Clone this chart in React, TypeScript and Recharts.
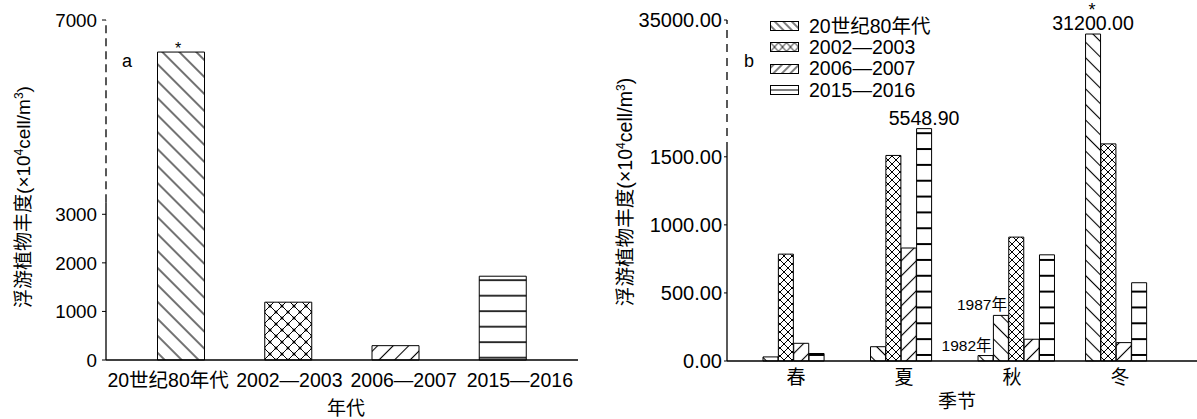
import React from 'react';
import { BarChart, Bar, XAxis, YAxis, Cell, LabelList, ReferenceLine, Legend } from 'recharts';

const FONT = "'Liberation Sans', Arial, 'Noto Sans CJK SC', sans-serif";

// ---------- panel a: mean abundance per survey period ----------
const DECADES = ['20世纪80年代', '2002—2003', '2006—2007', '2015—2016'];
const DECADE_MEANS = [6340, 1190, 295, 1725];
const DECADE_STARRED = [true, false, false, false];
const A_TICKS = [0, 1000, 2000, 3000, 7000];
const A_TOP = 7000;
const A_SOLID_TOP = 3250;

// ---------- panel b: seasonal abundance per survey period ----------
const SEASONS = ['春', '夏', '秋', '冬'];
const SERIES_KEYS = ['p80', 'p0203', 'p0607', 'p1516'];
const SERIES_NAMES = DECADES;
const S_80S = [30, 105, 40, 31200];
const S_0203 = [785, 1510, 910, 1595];
const S_0607 = [130, 830, 160, 135];
const S_1516 = [55, 5548.9, 780, 575];
const NOTES_80S = ['', '', '1982年', ''];
const AUTUMN_1987 = { value: 335, note: '1987年' };
const B_TICKS = [0, 500, 1000, 1500, 35000];

// broken value axis: linear up to B_BREAK, compressed above it
const B_BREAK = 1600;
const B_MAX = 35000;
const B_TOP = 2505;
const B_SOLID_TOP = 1550;
const B_K = (B_TOP - B_BREAK) / (B_MAX - B_BREAK);
const brk = (v: number) => (v <= B_BREAK ? v : B_BREAK + (v - B_BREAK) * B_K);
const unbrk = (d: number) => (d <= B_BREAK ? d : B_BREAK + (d - B_BREAK) / B_K);

// layout of bar slots: empty slots after each season group
const GAP_SLOTS_AFTER = [3, 3, 2, 0];
const DECADE_TICK_DX = [-13, 1, 8, 17];

const rowsA = DECADES.map((name, i) => ({
  name,
  value: DECADE_MEANS[i],
  star: DECADE_STARRED[i] ? '*' : undefined,
}));

const SERIES_VALUES = [S_80S, S_0203, S_0607, S_1516];
const rowsB: any[] = [];
SEASONS.forEach((season, si) => {
  SERIES_KEYS.forEach((key, ki) => {
    const add = (v: number, note?: string) => {
      rowsB.push({
        slot: `s${rowsB.length}`,
        season,
        [key]: brk(v),
        [`${key}Label`]: v > B_BREAK ? v.toFixed(2) : undefined,
        note: note || undefined,
        star: ki === 0 && v > B_BREAK ? '*' : undefined,
      });
    };
    add(SERIES_VALUES[ki][si], ki === 0 ? NOTES_80S[si] : '');
    if (ki === 0 && si === 2) add(AUTUMN_1987.value, AUTUMN_1987.note);
  });
  for (let g = 0; g < GAP_SLOTS_AFTER[si]; g++) rowsB.push({ slot: `s${rowsB.length}`, season });
});

const boxOf = (p: any) => ({
  x: p.x ?? p.viewBox?.x,
  y: p.y ?? p.viewBox?.y,
  width: p.width ?? p.viewBox?.width,
  height: p.height ?? p.viewBox?.height,
});

const YTitle = (props: any) => {
  const vb = props.viewBox || { x: 0, y: 0, width: 0, height: 0 };
  const cx = vb.x + props.cxOff;
  const cy = vb.y + vb.height / 2 + props.cyOff;
  const fs = props.fs;
  return (
    <g>
      <text
        transform={`rotate(-90 ${cx} ${cy})`}
        x={cx}
        y={cy + 7}
        textAnchor="middle"
        fontSize={fs}
        fontFamily={FONT}
        fill="#000"
      >
        浮游植物丰度(×10<tspan dy={-7} fontSize={12}>4</tspan>
        <tspan dy={7}>cell/m</tspan>
        <tspan dy={-7} fontSize={12}>3</tspan>
        <tspan dy={7}>)</tspan>
      </text>
      <text x={vb.x + vb.width + props.letterDx} y={67} fontSize={18} fontFamily={FONT} fill="#000">
        {props.letter}
      </text>
    </g>
  );
};

const XTitle = (props: any) => {
  const vb = props.viewBox || { x: 0, y: 0, width: 0, height: 0 };
  return (
    <text
      x={vb.x + vb.width / 2 + props.dx}
      y={props.baseY}
      textAnchor="middle"
      fontSize={19}
      fontFamily={FONT}
      fill="#000"
    >
      {props.text}
    </text>
  );
};

const DecadeTick = (props: any) => {
  const { x, y, payload, index } = props;
  return (
    <text
      x={x + (DECADE_TICK_DX[index] || 0)}
      y={y}
      dy="0.71em"
      textAnchor="middle"
      fontSize={19.5}
      fontFamily={FONT}
      fill="#000"
    >
      {payload.value}
    </text>
  );
};

const StarA = (props: any) => {
  if (!props.value) return null;
  const b = boxOf(props);
  return (
    <text x={b.x + b.width / 2 - 3} y={b.y + 2} textAnchor="middle" fontSize={16} fontFamily={FONT} fill="#000">
      {props.value}
    </text>
  );
};

const ValueLabel = (props: any) => {
  if (!props.value) return null;
  const b = boxOf(props);
  return (
    <text x={b.x + b.width / 2} y={b.y - 4} textAnchor="middle" fontSize={19.6} fontFamily={FONT} fill="#000">
      {props.value}
    </text>
  );
};

const StarB = (props: any) => {
  if (!props.value) return null;
  const b = boxOf(props);
  return (
    <text x={b.x + b.width / 2 - 1} y={b.y - 18} textAnchor="middle" fontSize={18} fontFamily={FONT} fill="#000">
      {props.value}
    </text>
  );
};

const NoteLabel = (props: any) => {
  if (!props.value) return null;
  const b = boxOf(props);
  return (
    <text x={b.x + b.width - 1.5} y={b.y - 5} textAnchor="end" fontSize={15.5} fontFamily={FONT} fill="#000">
      {props.value}
    </text>
  );
};

const Swatch = ({ kind }: { kind: string }) => {
  const id = `lg-${kind}`;
  let pat: React.ReactNode = null;
  if (kind === 'p80') {
    pat = (
      <pattern id={id} patternUnits="userSpaceOnUse" width={6} height={6} patternTransform="rotate(-45)">
        <rect width={6} height={6} fill="#fff" />
        <line x1={3} y1={0} x2={3} y2={6} stroke="#000" strokeWidth={1} />
      </pattern>
    );
  } else if (kind === 'p0203') {
    pat = (
      <pattern id={id} patternUnits="userSpaceOnUse" width={8} height={9} x={0.5} y={0.5}>
        <rect width={8} height={9} fill="#fff" />
        <path d="M0,0L8,9M8,0L0,9" stroke="#000" strokeWidth={1} fill="none" />
      </pattern>
    );
  } else if (kind === 'p0607') {
    pat = (
      <pattern id={id} patternUnits="userSpaceOnUse" width={6} height={6} patternTransform="rotate(45)">
        <rect width={6} height={6} fill="#fff" />
        <line x1={3} y1={0} x2={3} y2={6} stroke="#000" strokeWidth={1} />
      </pattern>
    );
  }
  return (
    <svg width={29} height={11} style={{ display: 'block' }}>
      <defs>{pat}</defs>
      <rect x={0.5} y={0.5} width={28} height={9} fill={pat ? `url(#${id})` : '#fff'} stroke="#000" strokeWidth={1} />
      {kind === 'p1516' && <line x1={0.5} y1={5} x2={28.5} y2={5} stroke="#000" strokeWidth={1} />}
    </svg>
  );
};

const LegendB = (props: any) => {
  const payload = [...(props.payload || [])].sort(
    (a: any, b: any) => SERIES_KEYS.indexOf(String(a.dataKey)) - SERIES_KEYS.indexOf(String(b.dataKey)),
  );
  return (
    <div style={{ fontFamily: FONT, fontSize: 19.5, color: '#000' }}>
      {payload.map((p: any) => (
        <div
          key={String(p.dataKey)}
          style={{ display: 'flex', alignItems: 'center', height: 21.3, whiteSpace: 'nowrap' }}
        >
          <Swatch kind={String(p.dataKey)} />
          <span style={{ marginLeft: 10, lineHeight: 1 }}>{p.value}</span>
        </div>
      ))}
    </div>
  );
};

const PATTERN_A = SERIES_KEYS.map((k) => `pa-${k}`);

export default function App() {
  return (
    <div style={{ position: 'absolute', left: 0, top: 0, width: 1197, height: 419, background: '#fff' }}>
      <div style={{ position: 'absolute', left: 0, top: 0 }}>
        <BarChart width={590} height={419} data={rowsA} margin={{ top: 20, right: 12, bottom: 0, left: 0 }}>
          <defs>
            <pattern id="pa-p80" patternUnits="userSpaceOnUse" width={12} height={12} patternTransform="rotate(-45)">
              <rect width={12} height={12} fill="#fff" />
              <line x1={6} y1={0} x2={6} y2={12} stroke="#000" strokeWidth={1.1} />
            </pattern>
            <pattern id="pa-p0203" patternUnits="userSpaceOnUse" width={12} height={12}>
              <rect width={12} height={12} fill="#fff" />
              <path d="M0,0L12,12M12,0L0,12" stroke="#000" strokeWidth={1} fill="none" />
              <circle cx={6} cy={6} r={1.5} fill="#000" />
              <circle cx={0} cy={0} r={1.5} fill="#000" />
              <circle cx={12} cy={0} r={1.5} fill="#000" />
              <circle cx={0} cy={12} r={1.5} fill="#000" />
              <circle cx={12} cy={12} r={1.5} fill="#000" />
            </pattern>
            <pattern id="pa-p0607" patternUnits="userSpaceOnUse" width={11} height={11} patternTransform="rotate(45)">
              <rect width={11} height={11} fill="#fff" />
              <line x1={5.5} y1={0} x2={5.5} y2={11} stroke="#000" strokeWidth={1.1} />
            </pattern>
            <pattern id="pa-p1516" patternUnits="userSpaceOnUse" width={20} height={15.5} y={0.2}>
              <rect width={20} height={15.5} fill="#fff" />
              <line x1={0} y1={1} x2={20} y2={1} stroke="#000" strokeWidth={1.6} />
            </pattern>
          </defs>
          <XAxis
            dataKey="name"
            height={59}
            interval={0}
            padding={{ left: 21.5, right: 21.5 }}
            stroke="#000"
            axisLine={{ stroke: '#000', strokeWidth: 1.5 }}
            tickLine={false}
            tickSize={0}
            tickMargin={13}
            tick={<DecadeTick />}
            label={<XTitle text="年代" dx={4} baseY={415} />}
          />
          <XAxis xAxisId="edge" type="number" domain={[0, 1]} height={0} hide />
          <YAxis
            width={106}
            type="number"
            domain={[0, A_TOP]}
            ticks={A_TICKS}
            interval={0}
            stroke="#000"
            axisLine={false}
            tickLine={{ stroke: '#000' }}
            tickSize={4}
            tickMargin={5}
            tick={{ fontSize: 18.8, fill: '#000', fontFamily: FONT }}
            label={<YTitle letter="a" cxOff={23} cyOff={7} fs={19} letterDx={16} />}
          />
          <ReferenceLine
            xAxisId="edge"
            segment={[{ x: 0, y: 0 }, { x: 0, y: A_SOLID_TOP }]}
            stroke="#000"
            strokeWidth={1.3}
            ifOverflow="visible"
          />
          <ReferenceLine
            xAxisId="edge"
            segment={[{ x: 0, y: A_SOLID_TOP }, { x: 0, y: A_TOP }]}
            stroke="#000"
            strokeWidth={1.3}
            strokeDasharray="8 5"
            ifOverflow="visible"
          />
          <Bar dataKey="value" barSize={47} stroke="#000" strokeWidth={1} isAnimationActive={false}>
            {rowsA.map((r, i) => (
              <Cell key={r.name} fill={`url(#${PATTERN_A[i]})`} />
            ))}
            <LabelList dataKey="star" content={<StarA />} />
          </Bar>
        </BarChart>
      </div>

      <div style={{ position: 'absolute', left: 600, top: 0 }}>
        <BarChart
          width={597}
          height={419}
          data={rowsB}
          margin={{ top: 20, right: 0, bottom: 0, left: 0 }}
          barCategoryGap={0}
          barGap={0}
        >
          <defs>
            <pattern id="pb-p80" patternUnits="userSpaceOnUse" width={11} height={11} patternTransform="rotate(-45)">
              <rect width={11} height={11} fill="#fff" />
              <line x1={5.5} y1={0} x2={5.5} y2={11} stroke="#000" strokeWidth={1.1} />
            </pattern>
            <pattern id="pb-p0203" patternUnits="userSpaceOnUse" width={8} height={8}>
              <rect width={8} height={8} fill="#fff" />
              <path d="M0,0L8,8M8,0L0,8" stroke="#000" strokeWidth={1} fill="none" />
              <circle cx={4} cy={4} r={1.1} fill="#000" />
            </pattern>
            <pattern id="pb-p0607" patternUnits="userSpaceOnUse" width={10.6} height={10.6} patternTransform="rotate(45)">
              <rect width={10.6} height={10.6} fill="#fff" />
              <line x1={5.3} y1={0} x2={5.3} y2={10.6} stroke="#000" strokeWidth={1.1} />
            </pattern>
            <pattern id="pb-p1516" patternUnits="userSpaceOnUse" width={20} height={15.84} y={5.5}>
              <rect width={20} height={15.84} fill="#fff" />
              <line x1={0} y1={1} x2={20} y2={1} stroke="#000" strokeWidth={2} />
            </pattern>
          </defs>
          <XAxis
            xAxisId="season"
            dataKey="season"
            allowDuplicatedCategory={false}
            height={58}
            interval={0}
            padding={{ left: 15, right: 23 }}
            stroke="#000"
            axisLine={{ stroke: '#000', strokeWidth: 1.5 }}
            tickLine={false}
            tickSize={0}
            tickMargin={10}
            tick={{ fontSize: 19, fill: '#000', fontFamily: FONT }}
            label={<XTitle text="季节" dx={-5} baseY={408} />}
          />
          <XAxis xAxisId="slot" dataKey="slot" height={0} hide padding={{ left: 36, right: 50 }} />
          <XAxis xAxisId="edge" type="number" domain={[0, 1]} height={0} hide />
          <YAxis
            width={127}
            type="number"
            domain={[0, B_TOP]}
            ticks={B_TICKS.map(brk)}
            interval={0}
            stroke="#000"
            axisLine={false}
            tickLine={{ stroke: '#000' }}
            tickSize={3}
            tickMargin={2}
            tickFormatter={(d: number) => unbrk(d).toFixed(2)}
            tick={{ fontSize: 20, fill: '#000', fontFamily: FONT }}
            label={<YTitle letter="b" cxOff={25} cyOff={1.5} fs={19.6} letterDx={17} />}
          />
          <ReferenceLine
            xAxisId="edge"
            segment={[{ x: 0, y: 0 }, { x: 0, y: B_SOLID_TOP }]}
            stroke="#000"
            strokeWidth={1.3}
            ifOverflow="visible"
          />
          <ReferenceLine
            xAxisId="edge"
            segment={[{ x: 0, y: B_SOLID_TOP }, { x: 0, y: B_TOP }]}
            stroke="#000"
            strokeWidth={1.3}
            strokeDasharray="8 6"
            ifOverflow="visible"
          />
          <Legend
            layout="vertical"
            align="center"
            verticalAlign="middle"
            content={<LegendB />}
            wrapperStyle={{ left: 170, top: 16, width: 220, height: 'auto' }}
          />
          {SERIES_KEYS.map((k, i) => (
            <Bar
              key={k}
              dataKey={k}
              name={SERIES_NAMES[i]}
              xAxisId="slot"
              stackId="s"
              fill={`url(#pb-${k})`}
              stroke="#000"
              strokeWidth={1}
              isAnimationActive={false}
            >
              <LabelList dataKey={`${k}Label`} content={<ValueLabel />} />
              {k === 'p80' && <LabelList dataKey="note" content={<NoteLabel />} />}
              {k === 'p80' && <LabelList dataKey="star" content={<StarB />} />}
            </Bar>
          ))}
        </BarChart>
      </div>
    </div>
  );
}
